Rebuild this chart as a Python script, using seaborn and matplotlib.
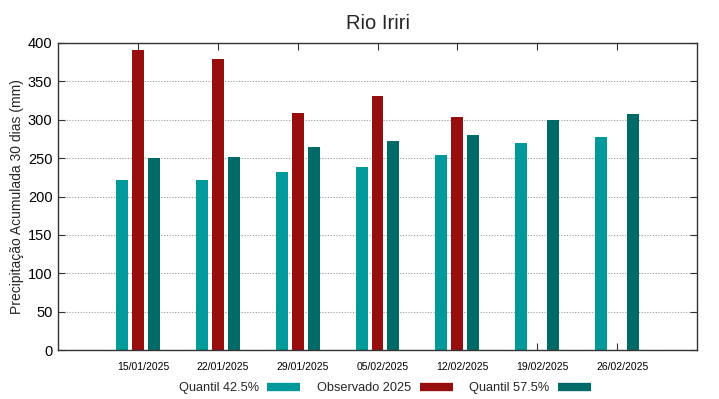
import matplotlib
matplotlib.use('Agg')
import matplotlib.pyplot as plt
import numpy as np
import pandas as pd
import seaborn as sns
from matplotlib.lines import Line2D
import matplotlib.transforms as mtransforms

# data
datas = ['15/01/2025', '22/01/2025', '29/01/2025', '05/02/2025',
         '12/02/2025', '19/02/2025', '26/02/2025']
quantil_425 = [221, 222, 232, 238, 254, 270, 278]
observado_2025 = [391, 379, 309, 331, 303, np.nan, np.nan]
quantil_575 = [250, 252, 264, 272, 280, 300, 308]
series_names = ['Quantil 42.5%', 'Observado 2025', 'Quantil 57.5%']
colors = ['#009a9a', '#960e0e', '#006a67']

df = pd.DataFrame({
    'data': datas,
    series_names[0]: quantil_425,
    series_names[1]: observado_2025,
    series_names[2]: quantil_575,
})
df_long = df.melt(id_vars='data', var_name='serie', value_name='valor').dropna()

sns.set_style('white')
plt.rcParams['font.family'] = ['Liberation Sans', 'DejaVu Sans']

fig = plt.figure(figsize=(7.19, 3.99), dpi=100)
ax = fig.add_axes([58 / 719, 1 - 350 / 399, (697 - 58) / 719, (350 - 43) / 399])

sns.barplot(data=df_long, x='data', y='valor', hue='serie', order=datas,
            hue_order=series_names, palette=colors, width=0.6, gap=0.25,
            saturation=1, legend=False, ax=ax, zorder=3,
            edgecolor='none', linewidth=0)

ax.set_xlim(-1, len(datas))
ax.set_ylim(0, 400)
ax.set_yticks(np.arange(0, 401, 50))
ax.grid(axis='y', color='#999999', linestyle=(0, (1, 1.5)), linewidth=0.8)
ax.grid(axis='x', visible=False)
ax.set_axisbelow(True)

for sp in ax.spines.values():
    sp.set_visible(True)
    sp.set_color('#333333')
    sp.set_linewidth(1.0)
    sp.set_zorder(5)

ax.tick_params(axis='y', direction='in', length=5, left=True, right=True,
               labelsize=10.5, colors='#333333', labelcolor='black', pad=4)
ax.tick_params(axis='x', direction='in', length=5, bottom=True, top=True,
               labelsize=7.5, colors='#333333', labelcolor='black', pad=9)

offset = mtransforms.ScaledTranslation(5 / 100, 0, fig.dpi_scale_trans)
for lab in ax.get_xticklabels():
    lab.set_transform(lab.get_transform() + offset)

ax.set_xlabel('')
ax.set_ylabel('Precipitação Acumulada 30 dias (mm)', fontsize=10, labelpad=2.5)
ax.set_title('Rio Iriri', fontsize=14.5, pad=10)

handles = [Line2D([0], [0], color=c, linewidth=6, solid_capstyle='butt') for c in colors]
fig.legend(handles, series_names, loc='center', bbox_to_anchor=(385 / 719, 1 - 388 / 399),
           ncol=3, frameon=False, markerfirst=False, fontsize=9.2,
           handlelength=2.6, handletextpad=0.65, columnspacing=1.3)

fig.savefig('out.png', dpi=100)
plt.close()
